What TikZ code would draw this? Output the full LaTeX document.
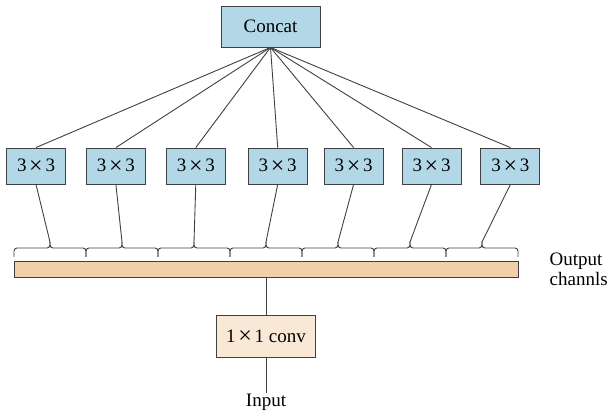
\documentclass[tikz,border=0pt]{standalone}
\usepackage{fontspec}
\setmainfont{Liberation Serif}
\usetikzlibrary{positioning}
\definecolor{kernelblue}{RGB}{178,216,232}
\definecolor{barfill}{RGB}{240,208,168}
\definecolor{convfill}{RGB}{250,232,214}
\definecolor{edgegray}{RGB}{64,64,64}
\newcommand{\bigx}{\makebox[1em]{\raisebox{-1.5pt}{\fontsize{24}{24}\selectfont ×}}}
\tikzset{
  wire/.style={draw=edgegray, line width=0.9pt},
  box/.style={wire, inner sep=0pt, font=\fontsize{19}{20}\selectfont},
  kernel/.style={box, fill=kernelblue, minimum width=59pt, minimum height=36pt},
  merge/.style={box, fill=kernelblue, minimum width=99pt, minimum height=41pt},
  pointwise/.style={box, fill=convfill, minimum width=99pt, minimum height=42pt},
  channels/.style={wire, fill=barfill, minimum width=504pt, minimum height=16pt, inner sep=0pt},
  chgroup/.pic={
    \draw[wire, rounded corners=3pt] (-36,-5) -- (-36,4) -- (0,4) -- (0,10);
    \draw[wire, rounded corners=3pt] (36,-5) -- (36,4) -- (0,4) -- (0,10);
  },
  label/.style={font=\fontsize{19}{20}\selectfont, inner sep=1pt}
}

\begin{document}
\begin{tikzpicture}[x=1pt, y=1pt]
\useasboundingbox (0,0) rectangle (611,411);

% Concat on top
\node[merge] (concat) at (270.5,384.5) {Concat};

% 3x3 branches
\node[kernel] (k1) at (36,245) {3\bigx3};
\node[kernel, right=20pt of k1] (k2) {3\bigx3};
\node[kernel, right=20pt of k2] (k3) {3\bigx3};
\node[kernel, right=22pt of k3] (k4) {3\bigx3};
\node[kernel, right=16pt of k4] (k5) {3\bigx3};
\node[kernel, right=18pt of k5] (k6) {3\bigx3};
\node[kernel, right=19pt of k6] (k7) {3\bigx3};

\foreach \k in {k1,k2,k3,k4,k5,k6,k7}
  \draw[wire] (concat.south) -- (\k.north);

% Output channels split into groups
\node[channels] (bar) at (266,142) {};
\node[label, align=left, right=30pt of bar] (outlbl) {Output\\channls};

\pic at (50,159) {chgroup};
\pic at (122,159) {chgroup};
\pic at (194,159) {chgroup};
\pic at (266,159) {chgroup};
\pic at (338,159) {chgroup};
\pic at (410,159) {chgroup};
\pic at (482,159) {chgroup};

\coordinate (t1) at (50,169);
\coordinate (t2) at (122,169);
\coordinate (t3) at (194,169);
\coordinate (t4) at (266,169);
\coordinate (t5) at (338,169);
\coordinate (t6) at (410,169);
\coordinate (t7) at (482,169);

\draw[wire] (k1.south) -- (t1);
\draw[wire] (k2.south) -- (t2);
\draw[wire] (k3.south) -- (t3);
\draw[wire] (k4.south) -- (t4);
\draw[wire] (k5.south) -- (t5);
\draw[wire] (k6.south) -- (t6);
\draw[wire] (k7.south) -- (t7);

% 1x1 conv and input
\node[pointwise, below=38pt of bar] (conv) {1\bigx1 conv};
\node[label, below=35pt of conv] (input) {Input};

\draw[wire] (bar.south) -- (conv.north);
\draw[wire] (conv.south) -- (input.north);
\end{tikzpicture}
\end{document}
